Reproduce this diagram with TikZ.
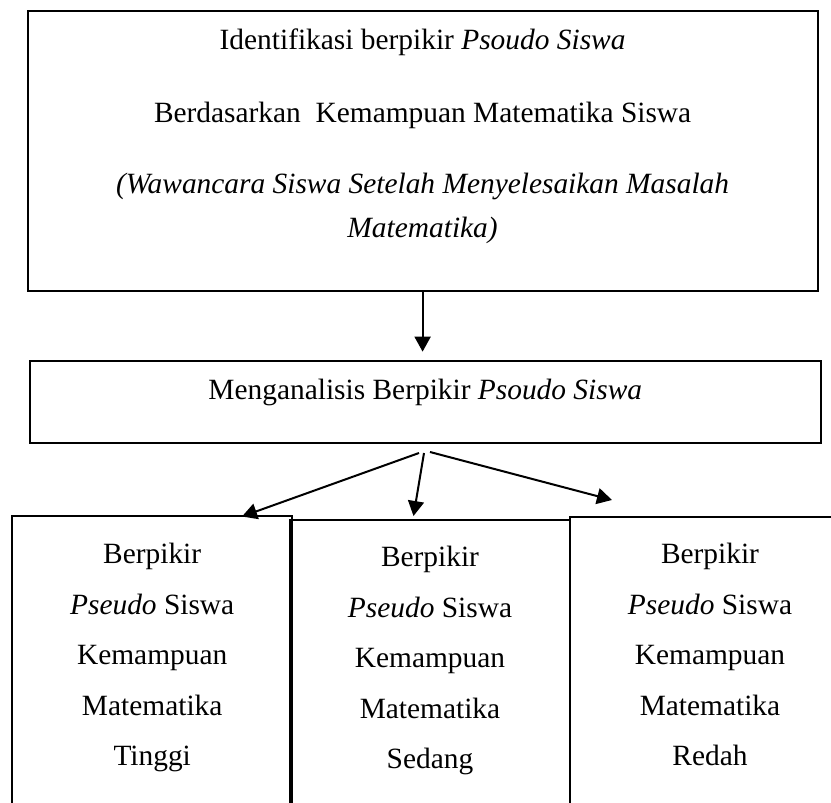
\documentclass[tikz,border=0pt]{standalone}
\usepackage{fontspec}
\setmainfont{Liberation Serif}
\usetikzlibrary{arrows.meta,positioning}

\begin{document}
\begin{tikzpicture}[
  x=1pt,y=-1pt,
  box/.style={draw,line width=2pt,inner sep=0pt},
  txt/.style={inner sep=0pt,align=center,font=\fontsize{29.4}{44}\selectfont},
  coltxt/.style={txt,font=\fontsize{29.4}{50.5}\selectfont},
  arr/.style={-{Triangle[length=15pt,width=16pt]},line width=2pt}
]
\useasboundingbox (0,0) rectangle (831,803);
\clip (0,0) rectangle (831,803);

% Boxes
\node[box,minimum width=789.8pt,minimum height=280pt] (ident) at (422.6,150.7) {};
\node[box,minimum width=790.7pt,minimum height=82.3pt] (ana) at (425.3,401.8) {};
\node[box,minimum width=280.5pt,minimum height=314.3pt] (tinggi) at (152.2,672.8) {};
\node[box,minimum width=280pt,minimum height=310pt] (sedang) at (430,675) {};
\node[box,minimum width=280pt,minimum height=312.5pt] (redah) at (710,673.7) {};

% Texts
\node[txt,anchor=base] (identA) at (422.6,49) {Identifikasi berpikir \textit{Psoudo Siswa}};
\node[txt,anchor=base] (identB) at (422.6,122) {Berdasarkan~\ Kemampuan Matematika Siswa};
\node[txt,anchor=base] (identC) at (422.6,193) {\textit{(Wawancara Siswa Setelah Menyelesaikan Masalah}};
\node[txt,anchor=base] (identD) at (422.6,237) {\textit{Matematika)}};
\node[txt,anchor=base] (anatxt) at (425.3,399) {Menganalisis Berpikir \textit{Psoudo Siswa}};
\node[coltxt,anchor=north] (tinggitxt) at (152.2,543)
  {Berpikir\\ \textit{Pseudo} Siswa\\ Kemampuan\\ Matematika\\ Tinggi};
\node[coltxt,anchor=north] (sedangtxt) at (430,546)
  {Berpikir\\ \textit{Pseudo} Siswa\\ Kemampuan\\ Matematika\\ Sedang};
\node[coltxt,anchor=north] (redahtxt) at (710,543)
  {Berpikir\\ \textit{Pseudo} Siswa\\ Kemampuan\\ Matematika\\ Redah};

% Arrows
\coordinate (fork) at (424,453);
\coordinate (tipL) at (242,516.5);
\coordinate (tipM) at (413.5,516);
\coordinate (tipR) at (612,500);
\draw[arr,shorten >=8pt] (ident.south) -- (ident.south |- ana.north);
\draw[arr] ([xshift=-5pt]fork) -- (tipL);
\draw[arr] (fork) -- (tipM);
\draw[arr] ([xshift=6pt,yshift=1pt]fork) -- (tipR);
\end{tikzpicture}
\end{document}
